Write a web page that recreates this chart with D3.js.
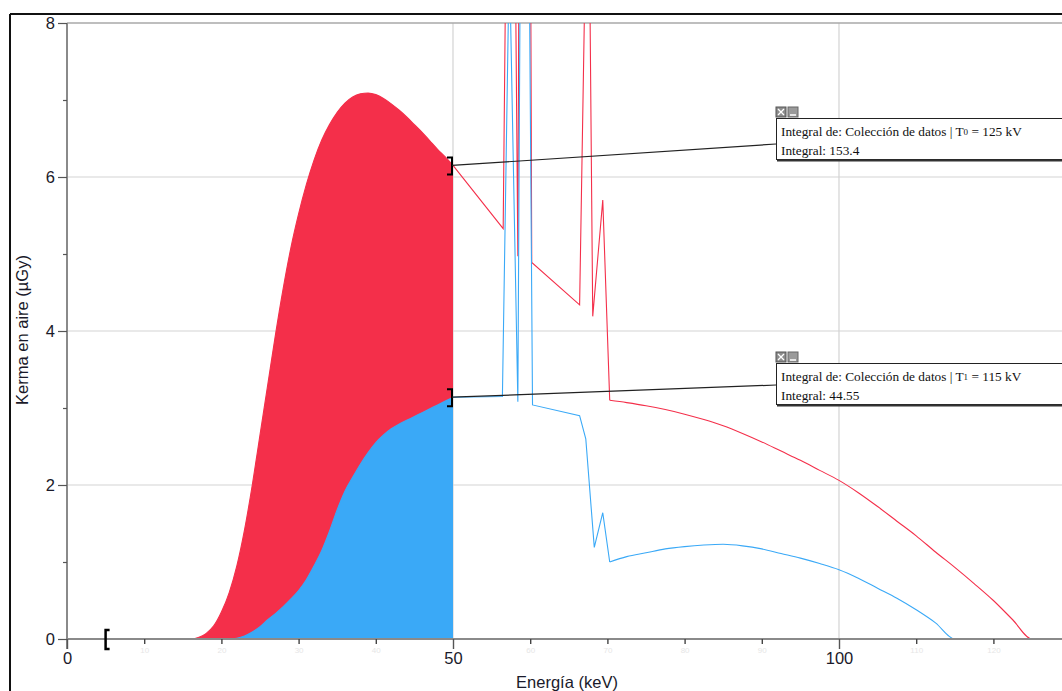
<!DOCTYPE html>
<html><head><meta charset="utf-8">
<script src="https://cdn.jsdelivr.net/npm/d3@7"></script>
<style>html,body{margin:0;padding:0;background:#fff;overflow:hidden}</style>
</head><body>
<svg id="c" width="1062" height="691"></svg>
<script>
// ---- data ----
const energyT0 = [0,16,17,18,19,20,21,22,23,24,25,26,27,28,29,30,31,32,33,34,35,36,37,38,39,40,41,42,43,44,45,46,47,48,49,50,56.5,57.5,58.4,59.3,60.2,66.4,67.5,68.1,69.4,70.3,72.5,75,77.5,80,82.5,85,87.5,90,92.5,95,97.5,100,102.5,105,107.5,110,112.5,115,117.5,120,122.5,125,130];
const kermaT0  = [0,0,0.02,0.07,0.17,0.35,0.6,0.95,1.42,2.0,2.65,3.3,3.95,4.55,5.08,5.52,5.9,6.22,6.48,6.68,6.84,6.96,7.04,7.08,7.09,7.07,7.02,6.95,6.87,6.78,6.68,6.58,6.47,6.36,6.26,6.15,5.33,15.7,4.97,30,4.89,4.34,11,4.19,5.7,3.1,3.07,3.03,2.98,2.92,2.85,2.77,2.67,2.56,2.44,2.32,2.19,2.06,1.9,1.72,1.53,1.34,1.13,0.93,0.72,0.5,0.25,0,0];
const energyT1 = [0,21,22,23,24,25,26,27,28,29,30,31,32,33,34,35,36,37,38,39,40,41,42,43,44,45,46,47,48,49,50,56.4,57.3,58.4,59.2,60.3,66.4,67.2,68.3,69.4,70.3,72.5,75,77.5,80,82.5,85,87.5,90,92.5,95,97.5,100,102.5,105,107.5,110,112.5,115,130];
const kermaT1  = [0,0,0.01,0.04,0.09,0.16,0.25,0.33,0.42,0.52,0.63,0.77,0.95,1.15,1.4,1.68,1.92,2.1,2.27,2.42,2.55,2.65,2.73,2.79,2.84,2.89,2.94,2.99,3.04,3.09,3.14,3.15,8.9,3.08,18,3.04,2.9,2.6,1.19,1.64,1.0,1.07,1.12,1.17,1.2,1.22,1.23,1.21,1.17,1.11,1.05,0.98,0.9,0.79,0.66,0.53,0.38,0.21,0,0];
const integralRange = [5, 50];
const spikeRange = [50, 70.3];
const yMajorTicks = [0,2,4,6,8];
const yMinorTicks = [1,3,5,7];
const xMajorTicks = [0,50,100];
const xMinorTicks = [10,20,30,40,60,70,80,90,110,120];
const yGrid = [2,4,6];
const xGrid = [50,100];
const labels = ["Integral de: Colección de datos | T", "0", " = 125 kV", "Integral: 153.4"];
const labels1 = ["Integral de: Colección de datos | T", "1", " = 115 kV", "Integral: 44.55"];

// ---- drawing ----
const svg = d3.select("#c");
const x = d3.scaleLinear().domain([0,130]).range([67, 67 + 130*7.72]);
const y = d3.scaleLinear().domain([0,8]).range([639, 23]);
const red = "#f42f4a", blue = "#3aa9f7";
const FONT = "Liberation Sans, Arial, sans-serif";

svg.append("defs").append("clipPath").attr("id","clip")
  .append("rect").attr("x",67).attr("y",y(8)).attr("width",1062-67).attr("height",y(0)-y(8));

// outer frame
svg.append("line").attr("x1",10).attr("x2",1062).attr("y1",14).attr("y2",14).attr("stroke","#111").attr("stroke-width",2);
svg.append("line").attr("x1",10).attr("x2",10).attr("y1",14).attr("y2",691).attr("stroke","#111").attr("stroke-width",2);

// grid
svg.selectAll(".gy").data(yGrid).enter().append("line")
  .attr("x1",67).attr("x2",1062).attr("y1",d=>y(d)).attr("y2",d=>y(d)).attr("stroke","#d3d3d3").attr("stroke-width",1.2);
svg.selectAll(".gx").data(xGrid).enter().append("line")
  .attr("x1",d=>x(d)).attr("x2",d=>x(d)).attr("y1",y(8)).attr("y2",y(0)).attr("stroke","#d3d3d3").attr("stroke-width",1.2);
svg.append("line").attr("x1",67).attr("x2",1062).attr("y1",y(8)).attr("y2",y(8)).attr("stroke","#a8a8a8").attr("stroke-width",1.5);

const T0 = energyT0.map((e,i)=>({e, k:kermaT0[i]}));
const T1 = energyT1.map((e,i)=>({e, k:kermaT1[i]}));
const inRange = d => d.e >= integralRange[0] && d.e <= integralRange[1];
const withStart = (arr) => [{e:integralRange[0],k:0}].concat(arr.filter(inRange));

const g = svg.append("g").attr("clip-path","url(#clip)");
const area = d3.area().x(d=>x(d.e)).y0(y(0)).y1(d=>y(d.k)).curve(d3.curveMonotoneX);
const smooth = d3.line().x(d=>x(d.e)).y(d=>y(d.k)).curve(d3.curveMonotoneX);
const straight = d3.line().x(d=>x(d.e)).y(d=>y(d.k));
g.append("path").attr("d",area(withStart(T0))).attr("fill",red);
g.append("path").attr("d",area(withStart(T1))).attr("fill",blue);

// axes lines
svg.append("line").attr("x1",67).attr("x2",1062).attr("y1",y(0)).attr("y2",y(0)).attr("stroke","#8a8a8a").attr("stroke-width",2);
svg.append("line").attr("x1",67).attr("x2",67).attr("y1",y(8)).attr("y2",649).attr("stroke","#8a8a8a").attr("stroke-width",2);

function drawSeries(arr, color){
  const a = arr.filter(d=>d.e<=spikeRange[0]);
  const b = arr.filter(d=>d.e>=spikeRange[0] && d.e<=spikeRange[1]);
  const c = arr.filter(d=>d.e>=spikeRange[1]);
  [[a,smooth],[b,straight],[c,smooth]].forEach(([seg,gen])=>{
    g.append("path").attr("d",gen(seg)).attr("fill","none").attr("stroke",color).attr("stroke-width",1.1);
  });
}
drawSeries(T0, red);
drawSeries(T1, blue);

const yAxis = d3.axisLeft(y).tickValues(yMajorTicks).tickSize(9).tickPadding(3);
const ya = svg.append("g").attr("transform","translate(67,0)").call(yAxis);
ya.select(".domain").remove();
ya.selectAll(".tick line").attr("stroke","#555").attr("stroke-width",1.2);
ya.selectAll(".tick text").attr("font-family",FONT).attr("font-size",16.5).attr("fill","#1a1a2a");
const yAxisMinor = d3.axisLeft(y).tickValues(yMinorTicks).tickSize(4).tickFormat("");
const yam = svg.append("g").attr("transform","translate(67,0)").call(yAxisMinor);
yam.select(".domain").remove();
yam.selectAll(".tick line").attr("stroke","#555").attr("stroke-width",1.2);

const xAxis = d3.axisBottom(x).tickValues(xMajorTicks).tickSize(10).tickPadding(3);
const xa = svg.append("g").attr("transform","translate(0,639)").call(xAxis);
xa.select(".domain").remove();
xa.selectAll(".tick line").attr("stroke","#555").attr("stroke-width",1.4);
xa.selectAll(".tick text").attr("font-family",FONT).attr("font-size",16.5).attr("fill","#1a1a2a");
const xAxisMinor = d3.axisBottom(x).tickValues(xMinorTicks).tickSize(5).tickPadding(3);
const xam = svg.append("g").attr("transform","translate(0,639)").call(xAxisMinor);
xam.select(".domain").remove();
xam.selectAll(".tick line").attr("stroke","#444").attr("stroke-width",1.4);
xam.selectAll(".tick text").attr("font-family",FONT).attr("font-size",8).attr("fill","#e6e6e6");

// axis titles
svg.append("text").attr("transform","translate(28,330) rotate(-90)").attr("text-anchor","middle")
  .attr("font-family",FONT).attr("font-size",16.5).attr("fill","#1a1a2a").text("Kerma en aire (µGy)");
svg.append("text").attr("x",567).attr("y",688).attr("text-anchor","middle")
  .attr("font-family",FONT).attr("font-size",16.5).attr("fill","#1a1a2a").text("Energía (keV)");

// integration brackets
const xs = x(integralRange[0]);
svg.append("path").attr("d",`M${xs+4},${y(0)-9}H${xs}V${y(0)+10}H${xs+4}`).attr("fill","none").attr("stroke","#000").attr("stroke-width",2.5);
const endT0 = T0.find(d=>d.e===integralRange[1]).k, endT1 = T1.find(d=>d.e===integralRange[1]).k;
const xe = x(integralRange[1]) - 1;
[endT0,endT1].forEach(v=>{
  svg.append("path").attr("d",`M${xe-5},${y(v)-8}H${xe}V${y(v)+9}H${xe-5}`).attr("fill","none").attr("stroke","#000").attr("stroke-width",2);
});

// annotation boxes
function box(top, lbl, anchorVal, lineY){
  svg.append("line").attr("x1",xe).attr("y1",y(anchorVal)).attr("x2",776).attr("y2",lineY).attr("stroke","#222").attr("stroke-width",1.2);
  const ic = svg.append("g");
  ic.append("rect").attr("x",776).attr("y",top-11).attr("width",10).attr("height",10).attr("fill","#8c8c8c").attr("stroke","#555");
  ic.append("path").attr("d",`M${778},${top-9}L${784},${top-3}M${784},${top-9}L${778},${top-3}`).attr("stroke","#fff").attr("stroke-width",1.3);
  ic.append("rect").attr("x",788).attr("y",top-11).attr("width",10).attr("height",10).attr("fill","#9a9a9a").attr("stroke","#666");
  ic.append("line").attr("x1",790).attr("x2",796).attr("y1",top-3).attr("y2",top-3).attr("stroke","#fff").attr("stroke-width",1.5);
  svg.append("rect").attr("x",776.5).attr("y",top+0.5).attr("width",400).attr("height",41).attr("fill","#fff").attr("stroke","#222").attr("stroke-width",1);
  svg.append("line").attr("x1",777).attr("x2",1062).attr("y1",top+42.5).attr("y2",top+42.5).attr("stroke","#333").attr("stroke-width",2);
  const t = svg.append("text").attr("x",781).attr("y",top+18).attr("font-family","Liberation Serif, Times New Roman, serif").attr("font-size",13.3).attr("fill","#111");
  t.append("tspan").text(lbl[0]);
  t.append("tspan").attr("font-size",9).attr("dy",-1).text(lbl[1]);
  t.append("tspan").attr("dy",1).text(lbl[2]);
  svg.append("text").attr("x",781).attr("y",top+37).attr("font-family","Liberation Serif, Times New Roman, serif").attr("font-size",13.3).attr("fill","#111").text(lbl[3]);
}
box(118, labels, endT0, 144);
box(363, labels1, endT1, 385);
</script>
</body></html>
